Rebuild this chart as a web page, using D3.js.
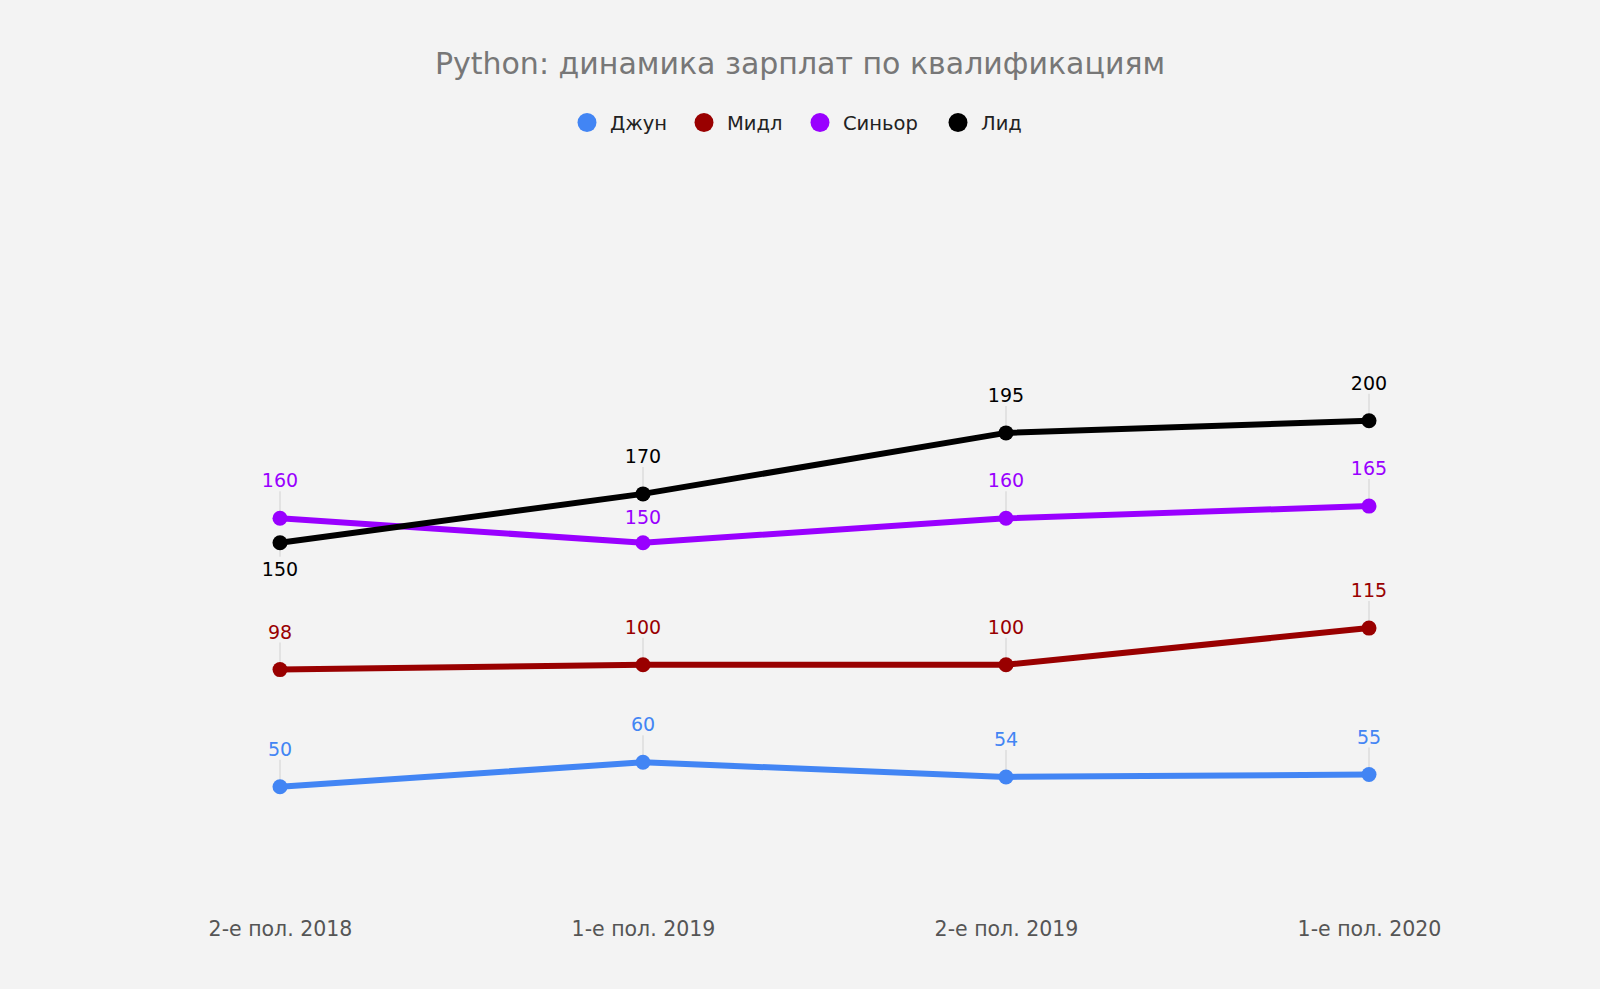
<!DOCTYPE html>
<html><head><meta charset="utf-8">
<script src="https://cdn.jsdelivr.net/npm/d3@7/dist/d3.min.js"></script>
<style>html,body{margin:0;padding:0;background:#f3f3f3;}svg{display:block;}</style>
</head><body><svg id="c" width="1600" height="989"></svg>
<script>
const categories = ["2-е пол. 2018", "1-е пол. 2019", "2-е пол. 2019", "1-е пол. 2020"];
const seriesNames = ["Джун", "Мидл", "Синьор", "Лид"];
const colors = ["#4285f4", "#990000", "#9900ff", "#000000"];
const junior = [50, 60, 54, 55];
const middle = [98, 100, 100, 115];
const senior = [160, 150, 160, 165];
const lead = [150, 170, 195, 200];
// label offsets relative to point (px, negative = above)
const juniorLabelOffset = [-31, -31, -31, -31];
const middleLabelOffset = [-31, -31, -31, -31];
const seniorLabelOffset = [-31, -19, -31, -31];
const leadLabelOffset = [33, -31, -31, -31];

const series = [
  {name: seriesNames[0], color: colors[0], values: junior, off: juniorLabelOffset},
  {name: seriesNames[1], color: colors[1], values: middle, off: middleLabelOffset},
  {name: seriesNames[2], color: colors[2], values: senior, off: seniorLabelOffset},
  {name: seriesNames[3], color: colors[3], values: lead, off: leadLabelOffset}
];

const W = 1600, H = 989;
const svg = d3.select("#c");
svg.append("rect").attr("width", W).attr("height", H).attr("fill", "#f3f3f3");

const font = "'DejaVu Sans', Verdana, sans-serif";

const x = d3.scalePoint().domain(categories).range([280, 1369]);
const y = d3.scaleLinear().domain([0, 200]).range([908.7, 420.7]);

// title
svg.append("text").attr("x", 800).attr("y", 74).attr("text-anchor", "middle")
  .attr("font-family", font).attr("font-size", 30).attr("fill", "#777")
  .text("Python: динамика зарплат по квалификациям");

// legend
const legendX = [587, 704, 820, 958];
const lg = svg.append("g");
series.forEach((s, i) => {
  lg.append("circle").attr("cx", legendX[i]).attr("cy", 122.5).attr("r", 9.5).attr("fill", s.color);
  lg.append("text").attr("x", legendX[i] + 23).attr("y", 129.5).attr("font-family", font)
    .attr("font-size", 19.5).attr("fill", "#222").text(s.name);
});

// x axis
const xAxis = d3.axisBottom(x).tickSize(0).tickPadding(0);
const ax = svg.append("g").attr("transform", "translate(0,921)").call(xAxis);
ax.select(".domain").remove();
ax.selectAll("text").attr("font-family", font).attr("font-size", 20.5).attr("fill", "#555").attr("dy", "0.71em");

// annotation arrows
const ann = svg.append("g");
series.forEach(s => {
  s.values.forEach((v, i) => {
    const cx = x(categories[i]), cy = y(v), o = s.off[i];
    const end = o > 0 ? cy + 14 : (o > -25 ? cy : cy - 27);
    ann.append("line").attr("x1", cx).attr("x2", cx).attr("y1", cy).attr("y2", end)
      .attr("stroke", "#ddd").attr("stroke-width", 1.5);
  });
});

// lines
const line = d3.line().x((d, i) => x(categories[i])).y(d => y(d));
series.forEach(s => {
  svg.append("path").datum(s.values).attr("d", line).attr("fill", "none")
    .attr("stroke", s.color).attr("stroke-width", 6).attr("stroke-linejoin", "round");
});
series.forEach(s => {
  svg.append("g").selectAll("circle").data(s.values).join("circle")
    .attr("cx", (d, i) => x(categories[i])).attr("cy", d => y(d)).attr("r", 7.5).attr("fill", s.color);
});

// labels
series.forEach(s => {
  svg.append("g").selectAll("text").data(s.values).join("text")
    .attr("x", (d, i) => x(categories[i]))
    .attr("y", (d, i) => y(d) + s.off[i])
    .attr("text-anchor", "middle").attr("font-family", font).attr("font-size", 19)
    .attr("fill", s.color).text(d => d);
});
</script></body></html>
